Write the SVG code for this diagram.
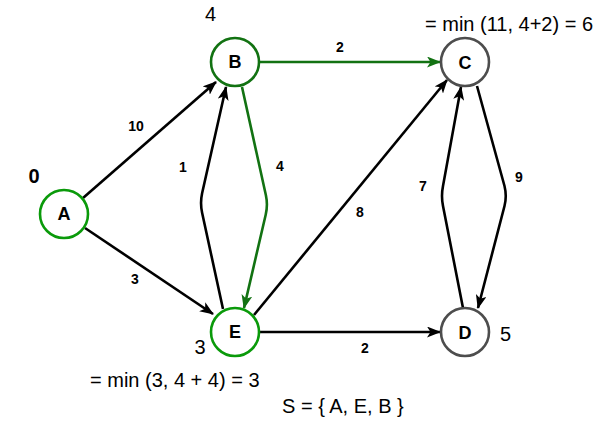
<svg xmlns="http://www.w3.org/2000/svg" width="609" height="432" viewBox="0 0 609 432">
<style>
.node circle{fill:#fff;stroke-width:2.6}
.g circle{stroke:#0a9a0a}
.gb circle{stroke:#127212}
.k circle{stroke:#4d4d4d}
.nl{font-family:"Liberation Sans",Arial,sans-serif;font-weight:bold;font-size:18px;text-anchor:middle;fill:#000}
.el{font-family:"Liberation Sans",Arial,sans-serif;font-weight:bold;font-size:14px;text-anchor:middle;fill:#000}
.tx{font-family:"Liberation Sans",Arial,sans-serif;font-size:20px;fill:#000}
.e{fill:none;stroke:#000;stroke-width:2.6;marker-end:url(#ak)}
.eg{fill:none;stroke:#127212;stroke-width:2.6;marker-end:url(#ag)}
</style>
<defs>
<marker id="ak" viewBox="0 0 14 11" refX="13" refY="5.5" markerWidth="14" markerHeight="11" markerUnits="userSpaceOnUse" orient="auto">
<path d="M0,0 L14,5.5 L0,11 L3.5,5.5 z" fill="#000"/>
</marker>
<marker id="ag" viewBox="0 0 14 11" refX="13" refY="5.5" markerWidth="14" markerHeight="11" markerUnits="userSpaceOnUse" orient="auto">
<path d="M0,0 L14,5.5 L0,11 L3.5,5.5 z" fill="#127212"/>
</marker>
</defs>
<g id="connectors">
<path class="e" d="M83,198 L216,82"/>
<path class="e" d="M85,228 L213,314"/>
<path class="eg" d="M259,62 L440,62"/>
<path class="eg" d="M242,87 L265.9,195.2 Q268,205 265.7,214.7 L244,308"/>
<path class="e" d="M223,309 L202.1,212.8 Q200,203 202.1,193.2 L226,87"/>
<path class="e" d="M254,315 L447,80"/>
<path class="e" d="M259,332 L440,332"/>
<path class="e" d="M463,308 L443,206 Q441,196 443,186 L461,87"/>
<path class="e" d="M477,86 L504.5,186 Q507,196 504.5,206 L478,308"/>
<text class="el" x="136" y="131">10</text>
<text class="el" x="135" y="284">3</text>
<text class="el" x="340" y="52">2</text>
<text class="el" x="280" y="171">4</text>
<text class="el" x="183" y="172">1</text>
<text class="el" x="360" y="217">8</text>
<text class="el" x="365" y="353">2</text>
<text class="el" x="423" y="191">7</text>
<text class="el" x="519" y="182">9</text>
</g>
<g id="A" class="node g"><circle cx="64" cy="214" r="24"/><text class="nl" x="64" y="220">A</text></g>
<g id="B" class="node gb"><circle cx="235" cy="62" r="24"/><text class="nl" x="235" y="68">B</text></g>
<g id="C" class="node k"><circle cx="465" cy="62" r="24"/><text class="nl" x="465" y="69">C</text></g>
<g id="E" class="node g"><circle cx="235" cy="332" r="24"/><text class="nl" x="235" y="338">E</text></g>
<g id="D" class="node k"><circle cx="465" cy="332" r="24"/><text class="nl" x="465" y="339">D</text></g>
<text class="tx" x="34" y="183" text-anchor="middle" font-weight="bold">0</text>
<text class="tx" x="210.5" y="21" text-anchor="middle">4</text>
<text class="tx" x="200" y="354" text-anchor="middle">3</text>
<text class="tx" x="505.5" y="341" text-anchor="middle">5</text>
<text class="tx" x="425" y="31">= min (11, 4+2) = 6</text>
<text class="tx" x="90" y="387">= min (3, 4 + 4) = 3</text>
<text class="tx" x="282" y="413">S = { A, E, B }</text>
</svg>
